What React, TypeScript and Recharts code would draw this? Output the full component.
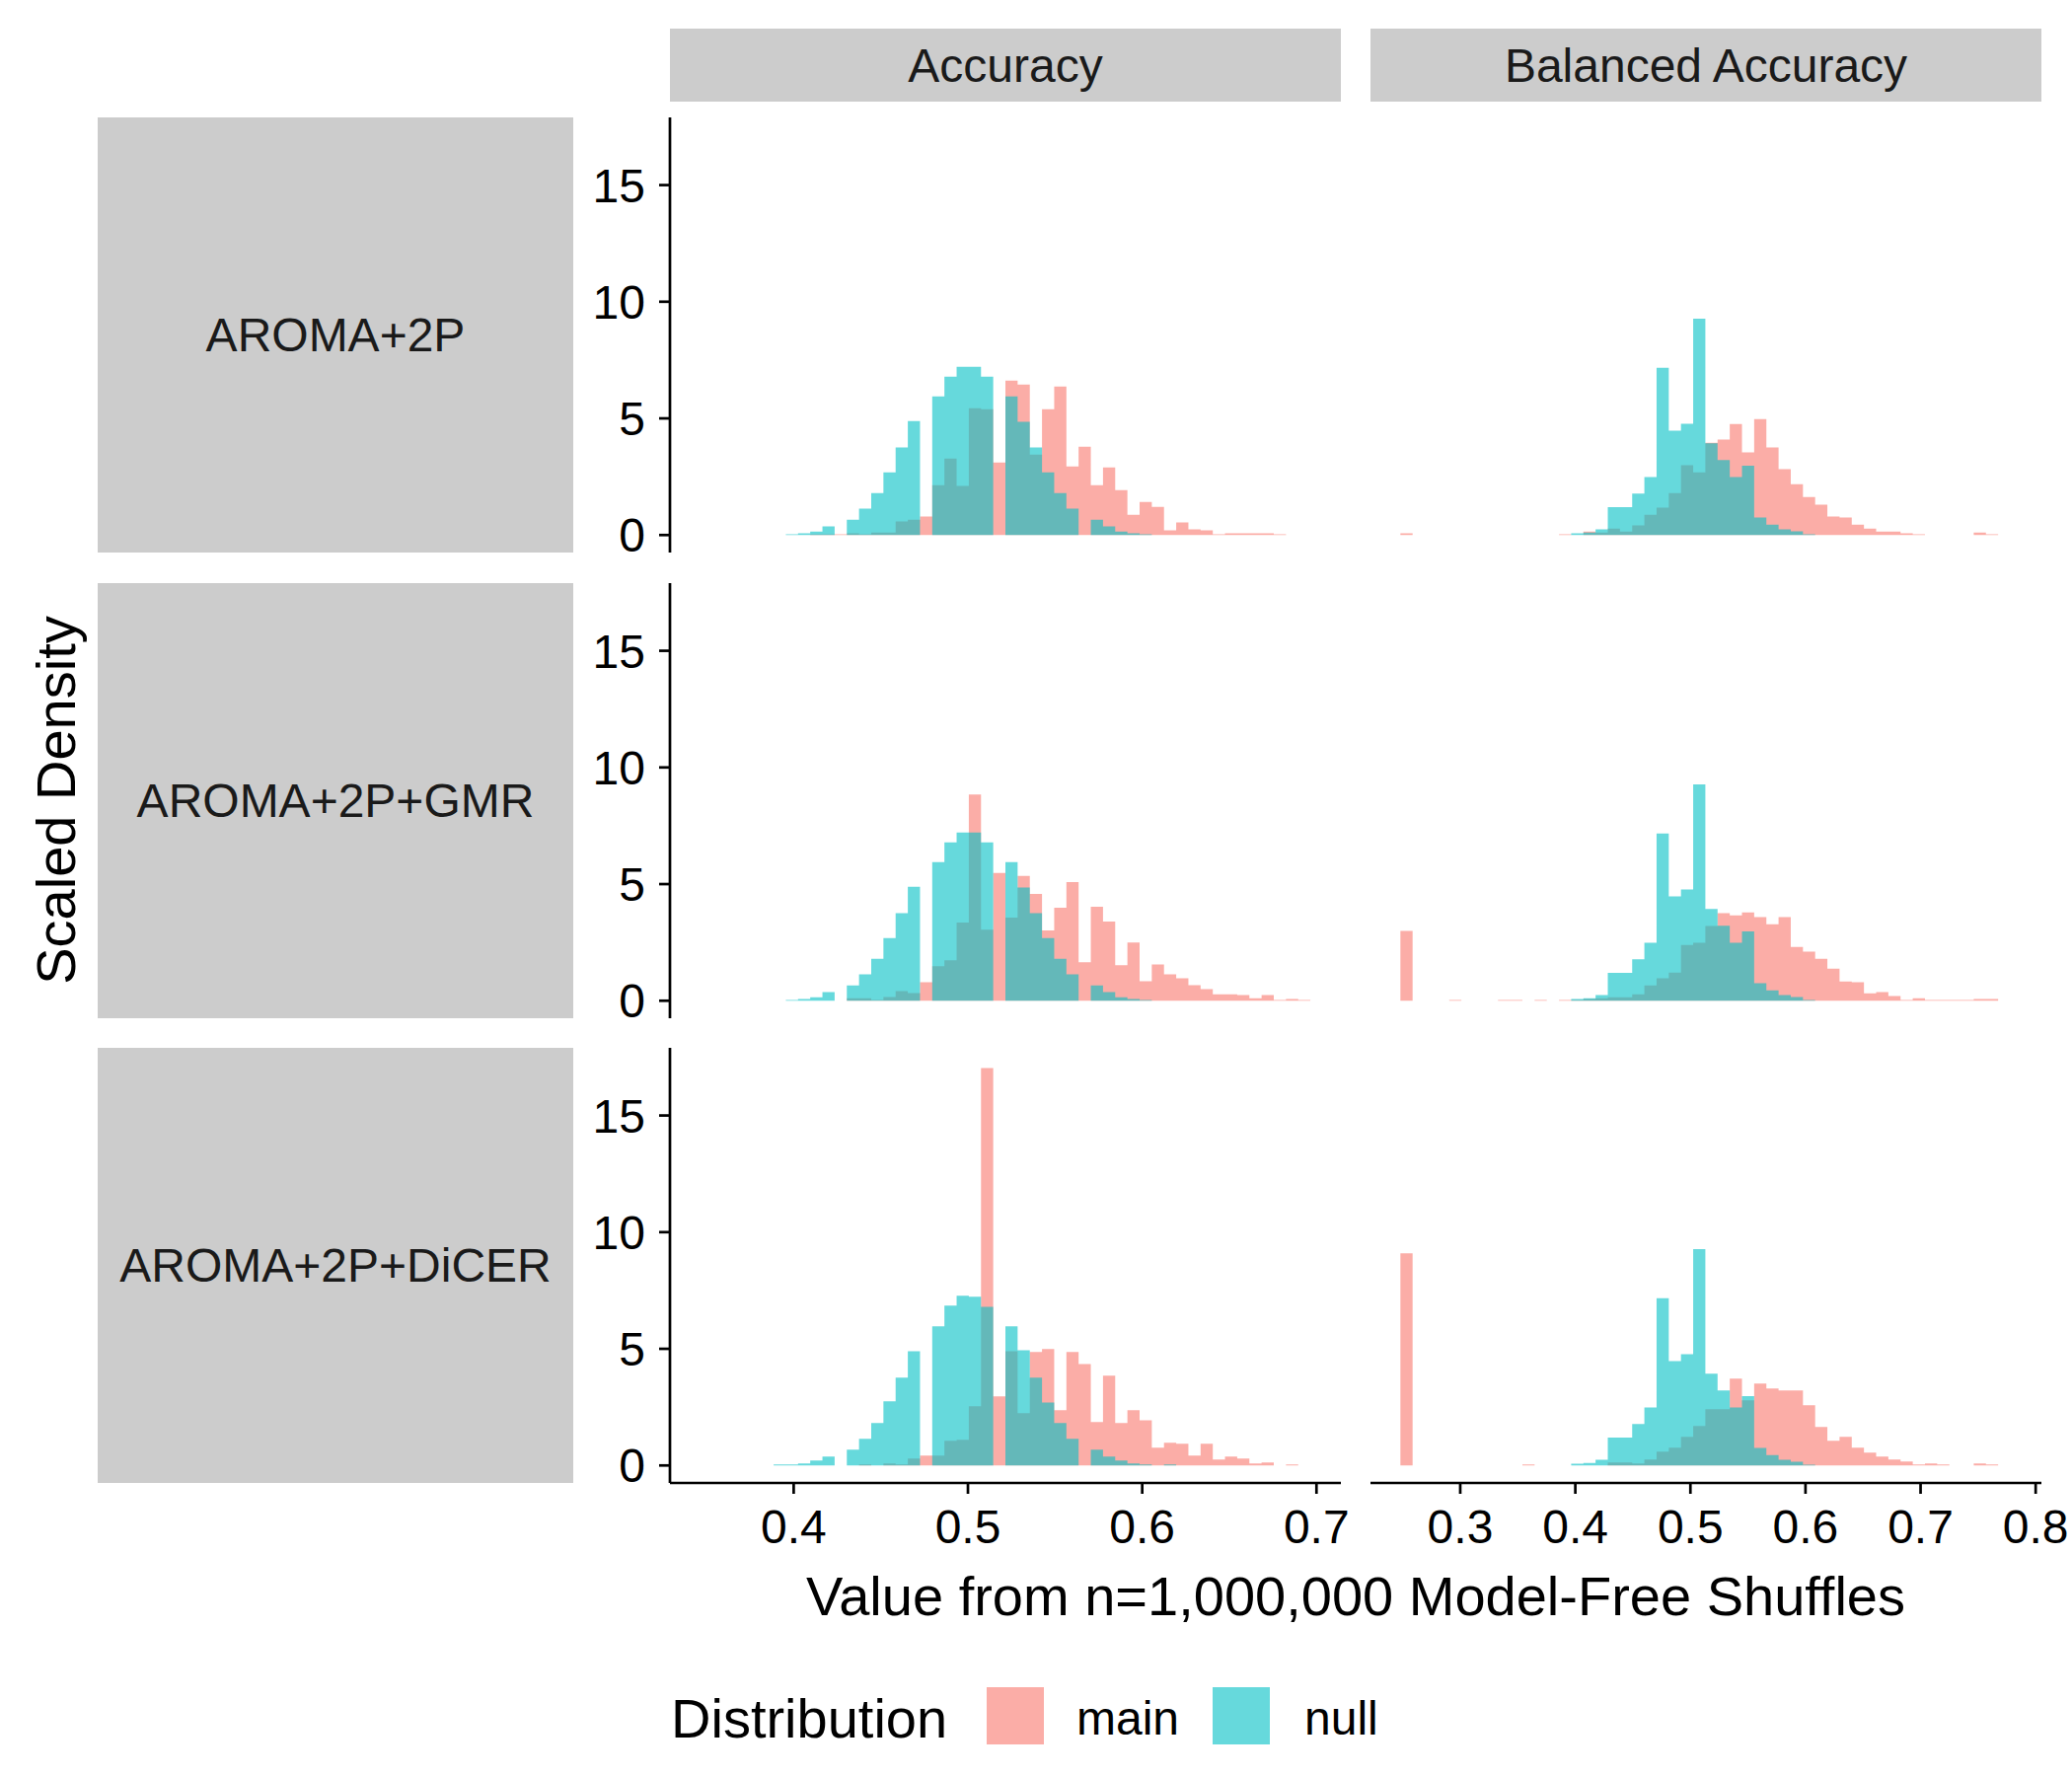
import React from "react"
import { ComposedChart, Area, XAxis, YAxis } from "recharts"

// histogram bin heights (scaled density)
const accStart = 0.3885
const accWidth = 0.007
const balStart = 0.248
const balWidth = 0.0106

const accNull = [0, 0.03, 0.07, 0.15, 0.37, 0, 0.66, 1.13, 1.8, 2.69, 3.75, 4.89, 0, 5.94, 6.79, 7.21, 7.21, 6.79, 0, 5.94, 4.85, 3.75, 2.69, 1.8, 1.13, 0, 0.66, 0.37, 0.15, 0.07, 0.03, 0, 0, 0, 0, 0, 0, 0, 0, 0, 0, 0, 0, 0]
const accNull3 = [0.04, 0.04, 0.08, 0.21, 0.38, 0, 0.68, 1.14, 1.82, 2.75, 3.76, 4.9, 0, 5.96, 6.85, 7.27, 7.23, 6.8, 0, 5.96, 4.94, 3.76, 2.7, 1.82, 1.14, 0, 0.68, 0.38, 0.21, 0.08, 0.04, 0, 0.04, 0, 0, 0, 0, 0, 0, 0, 0, 0, 0, 0]
const accMain1 = [0, 0, 0, 0.03, 0.03, 0.03, 0.07, 0.03, 0.11, 0.11, 0.58, 0.66, 0.79, 2.14, 3.28, 2.1, 5.44, 5.39, 3.11, 6.62, 6.45, 3.45, 5.39, 6.37, 2.94, 3.79, 2.14, 2.9, 1.93, 0.87, 1.42, 1.21, 0.2, 0.54, 0.24, 0.2, 0.03, 0.07, 0.07, 0.07, 0.07, 0.03, 0, 0]
const accMain2 = [0, 0, 0, 0, 0, 0, 0.11, 0.11, 0.03, 0.16, 0.41, 0.33, 0.79, 1.48, 1.73, 3.35, 8.84, 3.05, 5.48, 3.56, 5.35, 4.58, 3.01, 3.99, 5.09, 1.65, 4.03, 3.39, 1.52, 2.5, 0.84, 1.56, 1.13, 0.96, 0.67, 0.5, 0.28, 0.28, 0.24, 0.11, 0.24, 0.03, 0.07, 0.03]
const accMain3 = [0, 0, 0, 0, 0, 0, 0, 0.04, 0, 0.08, 0.04, 0.3, 0.42, 0.42, 1.06, 1.1, 2.54, 17.03, 2.96, 4.9, 2.24, 4.86, 4.99, 2.37, 4.86, 4.35, 1.86, 3.85, 1.82, 2.37, 1.94, 0.76, 0.97, 0.93, 0.42, 0.93, 0.25, 0.38, 0.3, 0.08, 0.13, 0, 0.04, 0]

const balNull = [0, 0, 0, 0, 0, 0, 0, 0, 0, 0, 0, 0, 0, 0, 0.07, 0.11, 0.24, 1.2, 1.2, 1.78, 2.48, 7.17, 4.47, 4.77, 9.27, 3.93, 3.22, 2.48, 2.97, 0.75, 0.45, 0.24, 0.16, 0.03, 0, 0, 0, 0, 0, 0, 0, 0, 0, 0, 0, 0, 0, 0, 0]
const balMain1 = [0.07, 0, 0, 0, 0, 0, 0, 0, 0, 0, 0, 0, 0, 0.03, 0, 0.15, 0.11, 0.28, 0.15, 0.41, 0.87, 1.17, 1.8, 2.99, 2.69, 3.96, 4.09, 4.76, 3.54, 4.97, 3.75, 2.82, 2.18, 1.63, 1.3, 0.79, 0.75, 0.45, 0.28, 0.15, 0.15, 0.07, 0.03, 0, 0, 0, 0, 0.11, 0.03]
const balMain2 = [2.99, 0, 0, 0, 0.03, 0, 0, 0, 0.03, 0.03, 0, 0.03, 0, 0.03, 0.03, 0.07, 0.11, 0.15, 0.15, 0.28, 0.66, 0.96, 1.21, 2.39, 2.48, 3.2, 3.75, 3.66, 3.79, 3.58, 3.28, 3.58, 2.31, 2.1, 1.8, 1.38, 0.83, 0.79, 0.32, 0.37, 0.2, 0.03, 0.11, 0.03, 0.03, 0.03, 0.03, 0.07, 0.07]
const balMain3 = [9.09, 0, 0, 0, 0, 0, 0, 0, 0, 0, 0.04, 0, 0, 0, 0, 0, 0, 0.13, 0.13, 0.08, 0.25, 0.59, 0.76, 1.23, 1.69, 2.41, 2.41, 3.72, 2.79, 3.51, 3.3, 3.21, 3.21, 2.58, 1.65, 1.06, 1.23, 0.76, 0.55, 0.38, 0.25, 0.17, 0.04, 0.08, 0.04, 0, 0, 0.08, 0.04]

const rowLabels = ["AROMA+2P", "AROMA+2P+GMR", "AROMA+2P+DiCER"]
const colLabels = ["Accuracy", "Balanced Accuracy"]
const accTicks = [0.4, 0.5, 0.6, 0.7]
const balTicks = [0.3, 0.4, 0.5, 0.6, 0.7, 0.8]
const yTicks = [0, 5, 10, 15]

const FONT = "'Liberation Sans', Arial, sans-serif"
const MAIN = "#F8766D"
const NULL = "#00BFC4"

function steps(start: number, width: number, main: number[], nul: number[]) {
  const out = main.map((m, i) => ({ x: start + i * width, main: m, null: nul[i] }))
  out.push({ x: start + main.length * width, main: 0, null: 0 })
  return out
}

const panelsX = [679, 1389]
const panelW = 680
const rowsY = [119, 591, 1062]
const panelH = 441
const yAxisW = 120
const xAxisH = 100
const padR = 40

function Panel({ col, row, data }: { col: number; row: number; data: any[] }) {
  const showY = col === 0
  const showX = row === 2
  const left = panelsX[col] - (showY ? yAxisW : 0)
  const w = panelW + (showY ? yAxisW : 0) + padR
  const h = panelH + (showX ? xAxisH : 0)
  const domain = col === 0 ? [0.329, 0.714] : [0.222, 0.805]
  return (
    <div style={{ position: "absolute", left, top: rowsY[row] }}>
      <ComposedChart width={w} height={h} data={data} margin={{ top: 0, right: padR, left: 0, bottom: 0 }}>
        <XAxis
          dataKey="x"
          type="number"
          domain={domain}
          allowDataOverflow
          ticks={col === 0 ? accTicks : balTicks}
          hide={!showX}
          height={xAxisH}
          tickSize={11}
          tickMargin={16}
          interval={0}
          tick={{ fill: "#000", fontSize: 48, fontFamily: FONT }}
          axisLine={{ stroke: "#000", strokeWidth: 2.7 }}
          tickLine={{ stroke: "#000", strokeWidth: 2.7 }}
        />
        <YAxis
          type="number"
          domain={[-0.75, 17.9]}
          allowDataOverflow
          ticks={yTicks}
          interval={0}
          hide={!showY}
          width={yAxisW}
          tickSize={11}
          tickMargin={14}
          tick={{ fill: "#000", fontSize: 48, fontFamily: FONT }}
          axisLine={{ stroke: "#000", strokeWidth: 2.7 }}
          tickLine={{ stroke: "#000", strokeWidth: 2.7 }}
        />
        <Area dataKey="main" type="stepAfter" baseValue={0} stroke="none" fill={MAIN} fillOpacity={0.6} isAnimationActive={false} />
        <Area dataKey="null" type="stepAfter" baseValue={0} stroke="none" fill={NULL} fillOpacity={0.6} isAnimationActive={false} />
      </ComposedChart>
    </div>
  )
}

export default function App() {
  const acc = [
    steps(accStart, accWidth, accMain1, accNull),
    steps(accStart, accWidth, accMain2, accNull),
    steps(accStart, accWidth, accMain3, accNull3),
  ]
  const bal = [
    steps(balStart, balWidth, balMain1, balNull),
    steps(balStart, balWidth, balMain2, balNull),
    steps(balStart, balWidth, balMain3, balNull),
  ]
  const strip: React.CSSProperties = {
    position: "absolute",
    background: "#CCCCCC",
    display: "flex",
    alignItems: "center",
    justifyContent: "center",
    fontSize: 48,
    color: "#1a1a1a",
  }
  return (
    <div style={{ position: "absolute", left: 0, top: 0, width: 2100, height: 1800, background: "#fff", fontFamily: FONT, overflow: "hidden" }}>
      {colLabels.map((l, i) => (
        <div key={l} style={{ ...strip, left: panelsX[i], top: 29, width: panelW, height: 74 }}>{l}</div>
      ))}
      {rowLabels.map((l, i) => (
        <div key={l} style={{ ...strip, left: 99, top: rowsY[i], width: 482, height: panelH }}>{l}</div>
      ))}
      {rowsY.map((_, r) => (
        <React.Fragment key={r}>
          <Panel col={0} row={r} data={acc[r]} />
          <Panel col={1} row={r} data={bal[r]} />
        </React.Fragment>
      ))}
      <div style={{ position: "absolute", left: 56, top: 811, transform: "translate(-50%, -50%) rotate(-90deg)", fontSize: 56, whiteSpace: "nowrap" }}>
        Scaled Density
      </div>
      <div style={{ position: "absolute", left: 1374, top: 1617, transform: "translate(-50%, -50%)", fontSize: 56, whiteSpace: "nowrap" }}>
        Value from n=1,000,000 Model-Free Shuffles
      </div>
      <div style={{ position: "absolute", left: 680, top: 1741, transform: "translateY(-50%)", fontSize: 56, whiteSpace: "nowrap" }}>
        Distribution
      </div>
      <div style={{ position: "absolute", left: 1000, top: 1710, width: 58, height: 58, background: MAIN, opacity: 0.6 }} />
      <div style={{ position: "absolute", left: 1091, top: 1741, transform: "translateY(-50%)", fontSize: 48 }}>main</div>
      <div style={{ position: "absolute", left: 1229, top: 1710, width: 58, height: 58, background: NULL, opacity: 0.6 }} />
      <div style={{ position: "absolute", left: 1322, top: 1741, transform: "translateY(-50%)", fontSize: 48 }}>null</div>
    </div>
  )
}
